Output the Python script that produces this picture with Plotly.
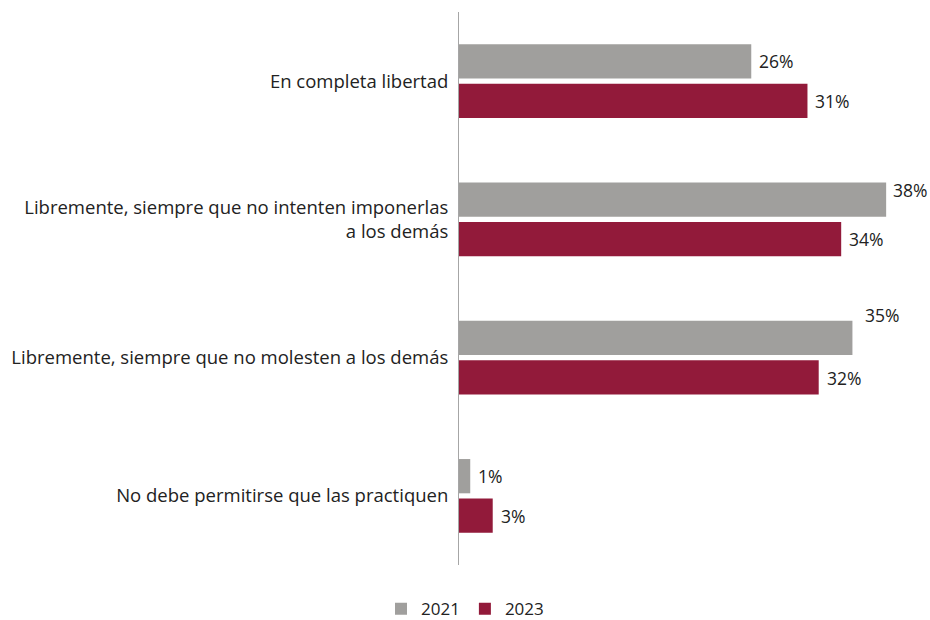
import plotly.graph_objects as go

categories = [
    "En completa libertad",
    "Libremente, siempre que no intenten imponerlas<br>a los demás",
    "Libremente, siempre que no molesten a los demás",
    "No debe permitirse que las practiquen",
]
series_names = ["2021", "2023"]
values_2021 = [26, 38, 35, 1]
values_2023 = [31, 34, 32, 3]

colors = {"2021": "#a09f9d", "2023": "#921a3a"}
text_color = "#222222"
font_family = "'Open Sans', sans-serif"

# label nudges (pixels) for labels that sit off the standard position
label_nudge = {("2021", 1): (5, 9), ("2021", 2): (11, 23)}
group_offset_px = 20

fig = go.Figure()
for name, vals in zip(series_names, [values_2021, values_2023]):
    fig.add_trace(go.Bar(
        name=name, y=categories, x=vals, orientation="h",
        marker=dict(color=colors[name], line=dict(width=0)),
        hoverinfo="skip",
    ))

for k, (name, vals) in enumerate(zip(series_names, [values_2021, values_2023])):
    for i, v in enumerate(vals):
        dx, dy = label_nudge.get((name, i), (6, 0))
        base = group_offset_px if k == 0 else -group_offset_px
        fig.add_annotation(
            x=v, y=categories[i], xref="x", yref="y",
            text=f"{v}%", showarrow=False, xanchor="left", yanchor="middle",
            xshift=dx, yshift=base + dy,
            font=dict(size=17.5, color=text_color, family=font_family),
        )

fig.update_layout(
    width=930, height=620,
    margin=dict(l=459, r=9, t=12, b=55, autoexpand=False),
    paper_bgcolor="white", plot_bgcolor="white",
    barmode="group", bargap=0.43, bargroupgap=0.13,
    font=dict(family=font_family, size=18, color=text_color),
    showlegend=True,
    legend=dict(orientation="h", x=0.5, xref="container", xanchor="center",
                y=-0.08, yanchor="middle", font=dict(size=17),
                traceorder="normal", itemwidth=30),
    xaxis=dict(range=[0, 41.1], showgrid=False, zeroline=False,
               showticklabels=False, showline=False, fixedrange=True),
    yaxis=dict(autorange="reversed", showgrid=False, showline=True,
               linecolor="#a6a6a6", linewidth=1, ticks="",
               ticklabelstandoff=6, tickfont=dict(size=18.5)),
)

fig.write_html(
    "out.html",
    config={"displayModeBar": False},
    post_script="document.body.style.margin='0';document.body.style.padding='0';",
)
